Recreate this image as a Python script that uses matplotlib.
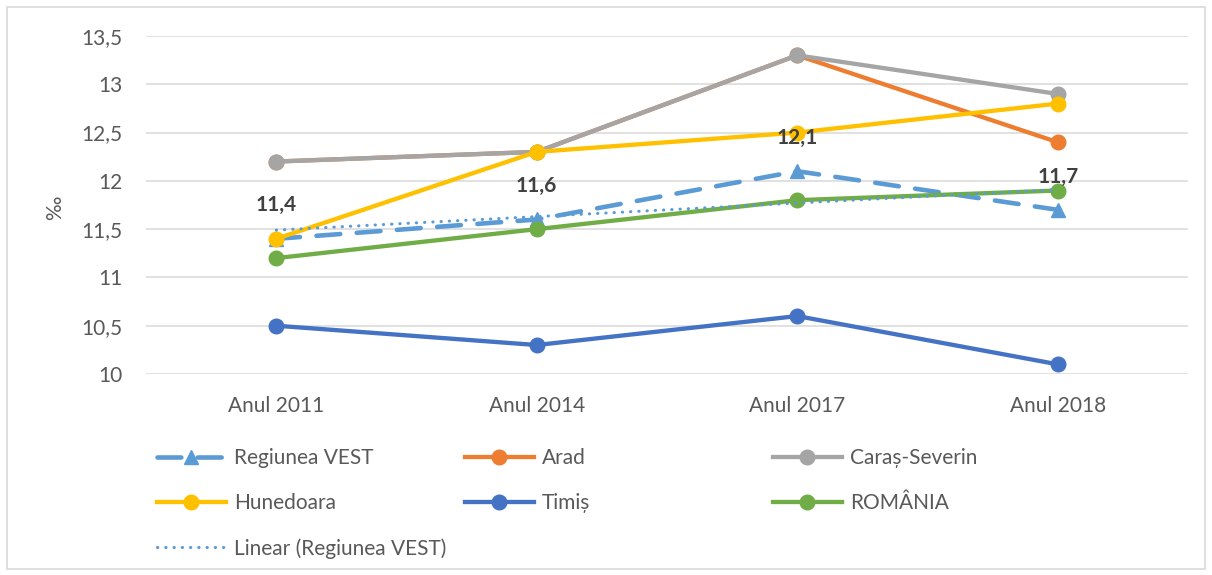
import matplotlib
matplotlib.use("Agg")
import matplotlib.pyplot as plt
import numpy as np
from matplotlib.patches import Rectangle

plt.rcParams['font.family'] = ['Lato', 'DejaVu Sans']

# date
categorii = ['Anul 2011', 'Anul 2014', 'Anul 2017', 'Anul 2018']
regiunea_vest = [11.4, 11.6, 12.1, 11.7]
arad = [12.2, 12.3, 13.3, 12.4]
caras_severin = [12.2, 12.3, 13.3, 12.9]
hunedoara = [11.4, 12.3, 12.5, 12.8]
timis = [10.5, 10.3, 10.6, 10.1]
romania = [11.2, 11.5, 11.8, 11.9]
y_ticks = [10, 10.5, 11, 11.5, 12, 12.5, 13, 13.5]

x = np.arange(len(categorii))
lw = 3.1
ms = 10.5

fig = plt.figure(figsize=(12.12, 5.75), dpi=100)
ax = fig.add_axes([146 / 1212, 1 - 374 / 575, (1188 - 146) / 1212, (374 - 36) / 575])

# chenarul graficului
fig.patches.append(Rectangle((7 / 1212, 6 / 575), 1198 / 1212, 562 / 575,
                             transform=fig.transFigure, fill=False,
                             edgecolor='#D9D9D9', lw=1.2))

h_vest, = ax.plot(x, regiunea_vest, color='#5B9BD5', lw=3.3, dashes=(5.2, 3.6),
                  dash_capstyle='round', marker='^', ms=ms, label='Regiunea VEST')
h_arad, = ax.plot(x, arad, color='#ED7D31', lw=lw, marker='o', ms=ms, label='Arad')
h_cs, = ax.plot(x, caras_severin, color='#A5A5A5', lw=lw, marker='o', ms=ms, label='Caraș-Severin')
h_hun, = ax.plot(x, hunedoara, color='#FFC000', lw=lw, marker='o', ms=ms, label='Hunedoara')
h_tim, = ax.plot(x, timis, color='#4472C4', lw=lw, marker='o', ms=ms, label='Timiș')
h_ro, = ax.plot(x, romania, color='#70AD47', lw=lw, marker='o', ms=ms, label='ROMÂNIA')

# linia de tendinta (Linear)
p = np.polyfit(x, regiunea_vest, 1)
h_lin, = ax.plot(x, np.polyval(p, x), color='#5B9BD5', lw=2.2, linestyle=(0, (0.1, 2.6)),
                 dash_capstyle='round', label='Linear (Regiunea VEST)')

for xi, v in zip(x, regiunea_vest):
    ax.annotate(('%.1f' % v).replace('.', ','), (xi, v), xytext=(0, 24),
                textcoords='offset points', ha='center', va='center',
                fontsize=15, fontweight='bold', color='#404040', zorder=10)

ax.set_xlim(-0.5, 3.5)
ax.set_ylim(10, 13.5)
ax.set_xticks(x)
ax.set_xticklabels(categorii)
ax.set_yticks(y_ticks)
ax.set_yticklabels([('%g' % t).replace('.', ',') for t in y_ticks])
ax.tick_params(axis='both', length=0, labelsize=15, labelcolor='#595959')
ax.tick_params(axis='y', pad=17)
ax.tick_params(axis='x', pad=16)
ax.grid(axis='y', color='#D9D9D9', lw=1.1)
ax.set_axisbelow(True)
for s in ax.spines.values():
    s.set_visible(False)

fig.text(55 / 1212, 1 - 208 / 575, '‰', rotation=90, fontsize=15, color='#595959',
         ha='center', va='center')

# legenda pe trei coloane
coloane = [([h_vest, h_hun, h_lin], 157), ([h_arad, h_tim], 465), ([h_cs, h_ro], 773)]
for handles, px in coloane:
    leg = fig.legend(handles=handles, loc='upper left',
                     bbox_to_anchor=(px / 1212, 1 - 448 / 575),
                     frameon=False, fontsize=15, borderpad=0, borderaxespad=0,
                     handlelength=3.3, handletextpad=0.4, labelspacing=1.2)
    for t in leg.get_texts():
        t.set_color('#595959')

fig.savefig('out.png', dpi=100)
